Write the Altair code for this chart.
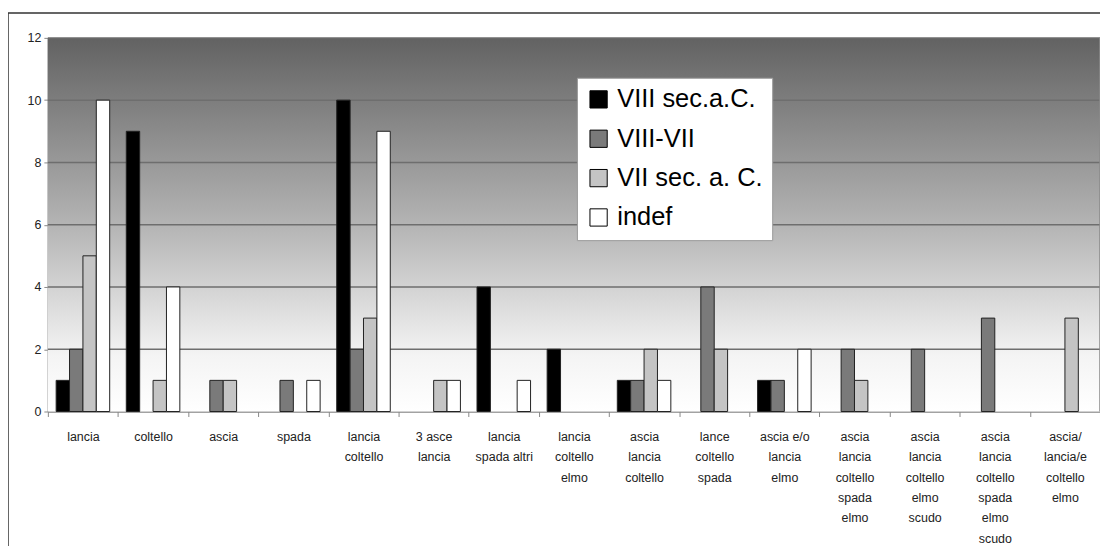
import altair as alt
import pandas as pd

categories = [
    "lancia", "coltello", "ascia", "spada", "lancia|coltello", "3 asce|lancia",
    "lancia|spada altri", "lancia|coltello|elmo", "ascia|lancia|coltello",
    "lance|coltello|spada", "ascia e/o|lancia|elmo",
    "ascia|lancia|coltello|spada|elmo", "ascia|lancia|coltello|elmo|scudo",
    "ascia|lancia|coltello|spada|elmo|scudo", "ascia/|lancia/e|coltello|elmo",
]
series_names = ["VIII sec.a.C.", "VIII-VII", "VII sec. a. C.", "indef"]
viii = [1, 9, 0, 0, 10, 0, 4, 2, 1, 0, 1, 0, 0, 0, 0]
viii_vii = [2, 0, 1, 1, 2, 0, 0, 0, 1, 4, 1, 2, 2, 3, 0]
vii = [5, 1, 1, 0, 3, 1, 0, 0, 2, 2, 0, 1, 0, 0, 3]
indef = [10, 4, 0, 1, 9, 1, 1, 0, 1, 0, 2, 0, 0, 0, 0]
series_colors = ["#000000", "#7a7a7a", "#c4c4c4", "#ffffff"]
y_ticks = [0, 2, 4, 6, 8, 10, 12]

rows = []
for name, vals in zip(series_names, [viii, viii_vii, vii, indef]):
    for c, v in zip(categories, vals):
        rows.append({"cat": c, "serie": name, "value": v})
df = pd.DataFrame(rows)

W, H = 1056, 375
FONT = "Liberation Sans"

xscale = alt.Scale(domain=categories, paddingInner=0, paddingOuter=0)
yscale = alt.Scale(domain=[0, 12], nice=False)
yaxis = alt.Axis(
    values=y_ticks, grid=False, tickSize=4, tickColor="#888888",
    domainColor="#888888", domainWidth=1.5, labelFont=FONT,
    labelFontSize=12.5, labelColor="#222222", labelPadding=3, title=None,
)

one = alt.Data(values=[{"k": 1}])

background = alt.Chart(one).mark_rect(
    fill=alt.Gradient(
        gradient="linear",
        stops=[
            alt.GradientStop(color="#626262", offset=0),
            alt.GradientStop(color="#b4b4b4", offset=0.5),
            alt.GradientStop(color="#f4f4f4", offset=0.85),
            alt.GradientStop(color="#ffffff", offset=1),
        ],
        x1=0, x2=0, y1=0, y2=1,
    )
).encode(x=alt.value(0), x2=alt.value(W), y=alt.value(0), y2=alt.value(H))

frame = alt.Chart(one).mark_rect(
    fillOpacity=0, stroke="#333333", strokeWidth=1.5
).encode(x=alt.value(-40), x2=alt.value(3000), y=alt.value(-25), y2=alt.value(3000))

grid = alt.Chart(pd.DataFrame({"v": y_ticks[1:]})).mark_rule(
    color="#6e6e6e", strokeWidth=1.5
).encode(
    y=alt.Y("v:Q", scale=yscale, axis=yaxis),
    x=alt.value(0), x2=alt.value(W),
)

right_edge = alt.Chart(one).mark_rule(color="#8a8a8a", strokeWidth=1.5).encode(
    x=alt.value(W), y=alt.value(0), y2=alt.value(H)
)

bars = alt.Chart(df).transform_filter("datum.value > 0").mark_bar(
    stroke="#222222", strokeWidth=1
).encode(
    x=alt.X(
        "cat:N", scale=xscale, sort=categories, title=None,
        axis=alt.Axis(
            labelExpr="isValid(datum.value) ? split(datum.value, '|') : ''",
            labelAngle=0, labelFont=FONT, labelFontSize=12.5, labelColor="#222222",
            labelLineHeight=20.4, labelBaseline="top", labelPadding=14,
            tickBand="extent", tickSize=5, tickColor="#888888",
            domainColor="#888888", domainWidth=1.5, labelLimit=200,
        ),
    ),
    xOffset=alt.XOffset(
        "serie:N", sort=series_names,
        scale=alt.Scale(domain=series_names, paddingInner=0, paddingOuter=0.62),
    ),
    y=alt.Y("value:Q", scale=yscale, title=None, axis=yaxis),
    color=alt.Color(
        "serie:N", sort=series_names,
        scale=alt.Scale(domain=series_names, range=series_colors),
        legend=alt.Legend(
            title=None, orient="none", legendX=531, legendY=40,
            fillColor="#ffffff", strokeColor="#999999", padding=9,
            symbolType="square", symbolSize=300, symbolStrokeColor="#000000",
            symbolStrokeWidth=1, labelFont=FONT, labelFontSize=25.5,
            labelColor="#000000", rowPadding=12.5, labelOffset=6,
        ),
    ),
)

chart = alt.layer(background, grid, right_edge, bars, frame).properties(
    width=W, height=H,
    autosize=alt.AutoSizeParams(type="none"),
    padding={"left": 40, "top": 29, "right": 0, "bottom": 134},
).configure_view(stroke=None).configure(background="#ffffff")

chart.save("out.html", embed_options={"renderer": "svg", "actions": False})
